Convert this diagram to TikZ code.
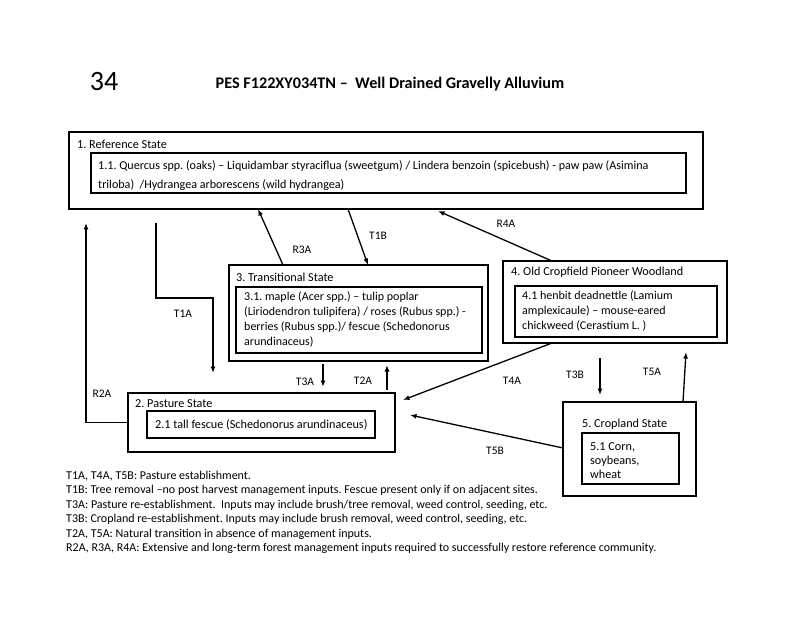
\documentclass[tikz,border=0pt]{standalone}
\usepackage{fontspec}
\setmainfont{Carlito}
\usetikzlibrary{arrows.meta}
\frenchspacing
\begin{document}
\begin{tikzpicture}[x=1pt,y=-1pt,
  outerbox/.style={draw, line width=1.8pt, inner sep=0pt, outer sep=0pt, anchor=north west},
  innerbox/.style={draw, line width=1.1pt, inner sep=0pt, outer sep=0pt, anchor=north west},
  boxtext/.style={inner sep=0pt, anchor=north west, align=left},
  boxtitle/.style={anchor=west, inner sep=0pt, font=\fontsize{12.2}{14}\selectfont},
  lbl/.style={inner sep=0pt, font=\fontsize{11.5}{13}\selectfont},
  arr/.style={line width=1.3pt, -{Latex[length=6.5pt,width=5pt]}}
]
\useasboundingbox (0,0) rectangle (800,617);
\fill[white] (0,0) rectangle (800,617);

% titles
\node[inner sep=0pt, font=\fontsize{28}{30}\selectfont] (num) at (104,82) {34};
\node[inner sep=0pt, font=\bfseries\fontsize{16.2}{18}\selectfont] (title) at (390,84) {PES F122XY034TN --\ \ Well Drained Gravelly Alluvium};

% box 1
\node[outerbox, minimum width=634pt, minimum height=77pt] (b1) at (69,132) {};
\node[boxtitle] (t1) at (77,144) {1. Reference State};
\node[innerbox, minimum width=595pt, minimum height=40pt] (i1) at (91,153) {};
\node[boxtext, font=\fontsize{12.1}{19}\selectfont] (x1) at (98,160.5)
  {1.1. Quercus spp. (oaks) -- Liquidambar styraciflua (sweetgum) / Lindera benzoin (spicebush) - paw paw (Asimina\\ triloba)\ \ /Hydrangea arborescens (wild hydrangea)};

% box 3
\node[outerbox, minimum width=259pt, minimum height=96pt] (b3) at (229,265) {};
\node[boxtitle] (t3) at (236,277) {3. Transitional State};
\node[innerbox, minimum width=246pt, minimum height=66pt] (i3) at (236,287) {};
\node[boxtext, font=\fontsize{12}{15}\selectfont] (x3) at (244,292)
  {3.1. maple (Acer spp.) -- tulip poplar\\ (Liriodendron tulipifera) / roses (Rubus spp.) -\\ berries (Rubus spp.)/ fescue (Schedonorus\\ arundinaceus)};

% box 4
\node[outerbox, minimum width=224pt, minimum height=82pt] (b4) at (503,261) {};
\node[boxtitle] (t4) at (511,272) {4. Old Cropfield Pioneer Woodland};
\node[innerbox, minimum width=202pt, minimum height=51pt] (i4) at (515,286) {};
\node[boxtext, font=\fontsize{12}{15}\selectfont] (x4) at (522,291)
  {4.1 henbit deadnettle (Lamium\\ amplexicaule) -- mouse-eared\\ chickweed (Cerastium L. )};

% box 2
\node[outerbox, minimum width=267pt, minimum height=59pt] (b2) at (128,393) {};
\node[boxtitle] (t2) at (135,404) {2. Pasture State};
\node[innerbox, minimum width=228pt, minimum height=27pt] (i2) at (147,411) {};
\node[boxtext, anchor=west, font=\fontsize{12.2}{14}\selectfont] (x2) at (155,424.5)
  {2.1 tall fescue (Schedonorus arundinaceus)};

% box 5
\node[outerbox, minimum width=133pt, minimum height=94pt] (b5) at (563,402) {};
\node[boxtitle] (t5) at (582,424) {5. Cropland State};
\node[innerbox, minimum width=97pt, minimum height=51pt] (i5) at (582,433) {};
\node[boxtext, font=\fontsize{12.2}{14}\selectfont] (x5) at (590,442)
  {5.1 Corn,\\ soybeans,\\ wheat};

% connectors
\draw[arr] ([xshift=54pt]b3.north west) -- ([xshift=189pt]b1.south west);
\node[lbl] (lr3a) at (302,250) {R3A};
\draw[arr] ([xshift=279pt]b1.south west) -- ([xshift=139pt]b3.north west);
\node[lbl] (lt1b) at (378,236) {T1B};
\draw[arr] ([xshift=49pt]b4.north west) -- ([xshift=369pt,yshift=-2pt]b1.south west);
\node[lbl] (lr4a) at (506,224) {R4A};

\coordinate (t1as) at ([xshift=87pt,yshift=-14pt]b1.south west);
\coordinate (t1ae) at ([xshift=85pt,yshift=20pt]b2.north west);
\draw[arr] (t1as) -- (t1as |- 0,298) -| (t1ae);
\node[lbl] (lt1a) at (183,314) {T1A};

\coordinate (r2ae) at ([xshift=17pt,yshift=-14pt]b1.south west);
\draw[arr] (b2.west) -| (r2ae);
\node[lbl] (lr2a) at (102,394) {R2A};

\draw[arr] ([xshift=94pt,yshift=-3pt]b3.south west) -- ([xshift=94pt,yshift=-26pt]b3.south west);
\node[lbl] (lt3a) at (305,382) {T3A};
\draw[arr] ([xshift=158pt,yshift=-29pt]b3.south west) -- ([xshift=158pt,yshift=-4pt]b3.south west);
\node[lbl] (lt2a) at (363,381) {T2A};

\draw[arr] ([xshift=49pt]b4.south west) -- ([xshift=8pt,yshift=-7pt]b2.north east);
\node[lbl] (lt4a) at (512,381) {T4A};
\draw[arr] (b5.west |- 0,448) -- ([xshift=15pt,yshift=-22pt]b2.north east);
\node[lbl] (lt5b) at (495,451) {T5B};
\draw[arr] ([xshift=97pt,yshift=-15pt]b4.south west) -- ([xshift=97pt,yshift=-52pt]b4.south west);
\node[lbl] (lt3b) at (575,375) {T3B};
\draw[arr] ([xshift=120pt]b5.north west) -- ([xshift=183pt,yshift=-9pt]b4.south west);
\node[lbl] (lt5a) at (652,372) {T5A};

% legend
\node[anchor=north west, inner sep=0pt, align=left, font=\fontsize{12}{14.4}\selectfont] (legend) at (66,471)
 {T1A, T4A, T5B: Pasture establishment.\\
  T1B: Tree removal --no post harvest management inputs. Fescue present only if on adjacent sites.\\
  T3A: Pasture re-establishment.\ \ Inputs may include brush/tree removal, weed control, seeding, etc.\\
  T3B: Cropland re-establishment. Inputs may include brush removal, weed control, seeding, etc.\\
  T2A, T5A: Natural transition in absence of management inputs.\\
  R2A, R3A, R4A: Extensive and long-term forest management inputs required to successfully restore reference community.};
\end{tikzpicture}
\end{document}
